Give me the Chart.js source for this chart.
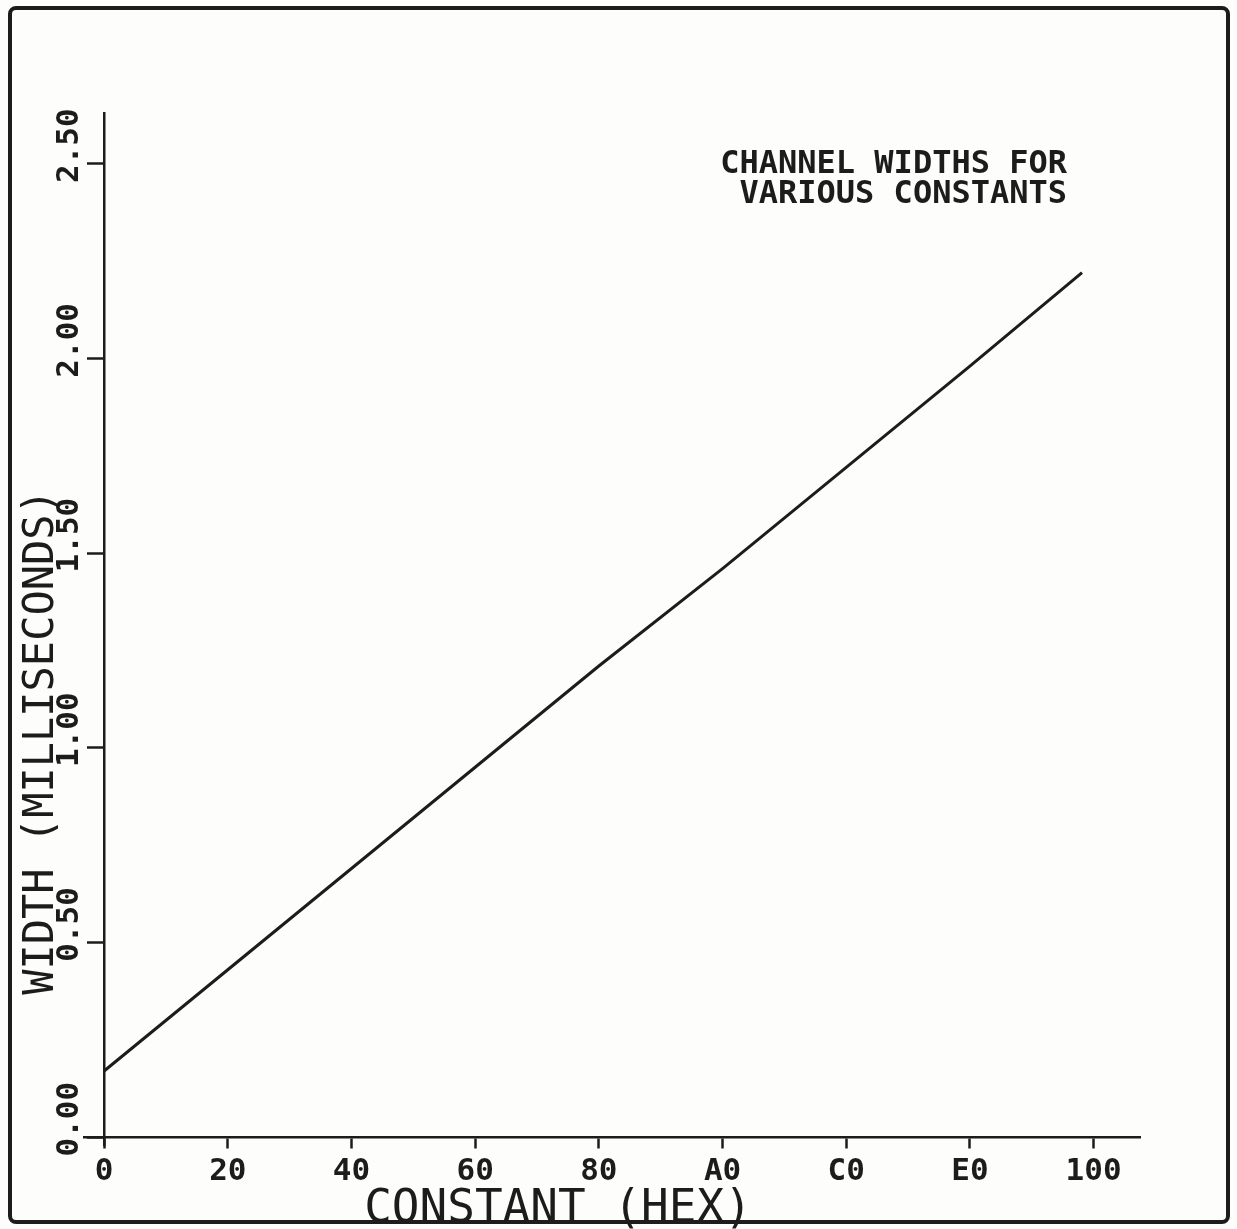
<!DOCTYPE html>
<html>
<head>
<meta charset="utf-8">
<title>Channel widths for various constants</title>
<script src="https://cdn.jsdelivr.net/npm/chart.js@4.4.1/dist/chart.umd.min.js"></script>
<style>
  html, body { margin: 0; padding: 0; background: #fdfdfb; }
  #plot { display: block; }
</style>
</head>
<body>
<canvas id="plot" width="1237" height="1229"></canvas>
<script>
// constant (hex value as number) vs channel width in ms
var constants = [0, 32, 64, 96, 128, 160, 192, 224, 253];
var widths = [0.17, 0.43, 0.69, 0.95, 1.21, 1.46, 1.72, 1.98, 2.22];

var xTickValues = [0, 32, 64, 96, 128, 160, 192, 224, 256];
var xTickLabels = ['0', '20', '40', '60', '80', 'A0', 'C0', 'E0', '100'];
var yTickValues = [0, 0.5, 1, 1.5, 2, 2.5];
var yTickLabels = ['0.00', '0.50', '1.00', '1.50', '2.00', '2.50'];

var captionLines = ['CHANNEL WIDTHS FOR', 'VARIOUS CONSTANTS'];
var xTitle = 'CONSTANT (HEX)';
var yTitle = 'WIDTH (MILLISECONDS)';

var ink = '#1c1c1a';
var mono = '"DejaVu Sans Mono", "Liberation Mono", monospace';

// labels, titles and the outer frame drawn on top of the chart
var plotterText = {
    id: 'plotterText',
    beforeDraw: function(chart) {
        var ctx = chart.ctx;
        ctx.save();
        ctx.fillStyle = '#fdfdfb';
        ctx.fillRect(0, 0, chart.width, chart.height);
        ctx.restore();
    },
    afterDraw: function(chart) {
        var ctx = chart.ctx;
        var xs = chart.scales.x;
        var ys = chart.scales.y;
        var axisX = xs.getPixelForValue(0);
        ctx.save();
        ctx.fillStyle = ink;
        ctx.textAlign = 'center';
        ctx.textBaseline = 'alphabetic';

        // rotated y tick labels
        ctx.font = 'bold 31px ' + mono;
        yTickValues.forEach(function(v, i) {
            var py = ys.getPixelForValue(v);
            ctx.save();
            ctx.translate(axisX - 26, py - 18);
            ctx.rotate(-Math.PI / 2);
            ctx.fillText(yTickLabels[i], 0, 0);
            ctx.restore();
        });

        // y axis title
        ctx.font = '42px ' + mono;
        ctx.save();
        ctx.translate(53, 742);
        ctx.rotate(-Math.PI / 2);
        ctx.fillText(yTitle, 0, 0);
        ctx.restore();

        // x axis title (runs into the frame)
        ctx.font = '46px ' + mono;
        ctx.fillText(xTitle, 558, 1222);

        // caption, top right
        ctx.font = 'bold 32px ' + mono;
        ctx.textAlign = 'right';
        ctx.fillText(captionLines[0], 1067, 173);
        ctx.fillText(captionLines[1], 1067, 203);

        // frame
        ctx.strokeStyle = ink;
        ctx.lineWidth = 4;
        ctx.beginPath();
        ctx.roundRect(10, 8, 1218, 1214, 6);
        ctx.stroke();
        ctx.restore();
    }
};

var ctx = document.getElementById('plot').getContext('2d');
var chart = new Chart(ctx, {
    type: 'line',
    data: {
        datasets: [{
            data: constants.map(function(c, i) { return { x: c, y: widths[i] }; }),
            borderColor: ink,
            borderWidth: 3,
            pointRadius: 0,
            tension: 0,
            fill: false
        }]
    },
    options: {
        responsive: false,
        animation: false,
        layout: {
            padding: { left: 84, right: 97, top: 113, bottom: 84 }
        },
        plugins: {
            legend: { display: false },
            tooltip: { enabled: false },
            title: { display: false }
        },
        scales: {
            x: {
                type: 'linear',
                position: { y: 0 },
                min: -5.2,
                max: 268,
                afterBuildTicks: function(scale) {
                    scale.ticks = xTickValues.map(function(v) { return { value: v }; });
                },
                grid: {
                    drawOnChartArea: false,
                    drawTicks: true,
                    tickLength: 10,
                    tickWidth: 2.5,
                    tickColor: ink
                },
                border: { display: true, color: ink, width: 2.5 },
                ticks: {
                    color: ink,
                    padding: 6,
                    maxRotation: 0,
                    autoSkip: false,
                    font: { family: mono, size: 31, weight: 'bold' },
                    callback: function(value) {
                        var i = xTickValues.indexOf(value);
                        return i >= 0 ? xTickLabels[i] : '';
                    }
                }
            },
            y: {
                type: 'linear',
                position: { x: 0 },
                min: -0.02,
                max: 2.63,
                afterBuildTicks: function(scale) {
                    scale.ticks = yTickValues.map(function(v) { return { value: v }; });
                },
                grid: {
                    drawOnChartArea: false,
                    drawTicks: true,
                    tickLength: 16,
                    tickWidth: 2.5,
                    tickColor: ink
                },
                border: { display: true, color: ink, width: 2.5 },
                ticks: { display: false }
            }
        }
    },
    plugins: [plotterText]
});
</script>
</body>
</html>
